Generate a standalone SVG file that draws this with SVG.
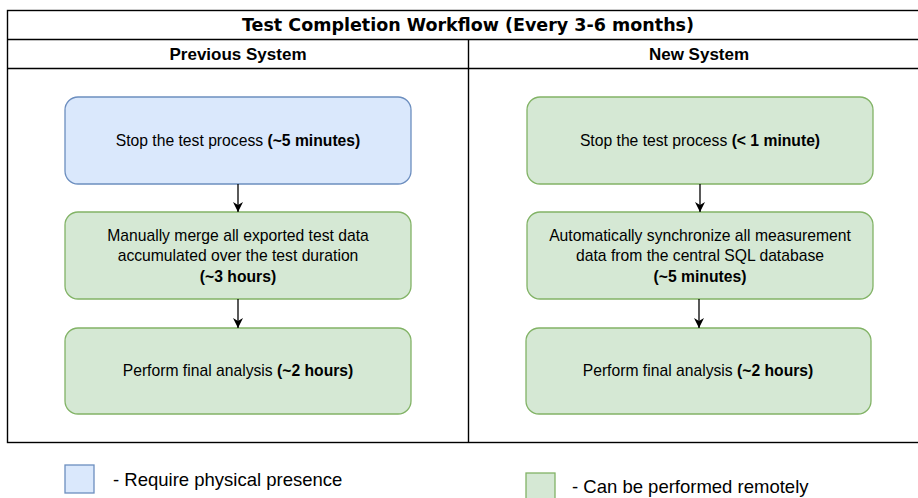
<svg xmlns="http://www.w3.org/2000/svg" width="918" height="498" viewBox="0 0 918 498">
  <style>
    .frame { fill: none; stroke: #000; stroke-width: 1.4; }
    .title { font-family: "DejaVu Sans", Verdana, sans-serif; font-weight: bold; font-size: 17.5px; fill: #000; text-anchor: middle; }
    .head { font-family: "Liberation Sans", Arial, sans-serif; font-weight: bold; font-size: 17px; fill: #000; text-anchor: middle; }
    .blue { fill: #dae8fc; stroke: #6c8ebf; stroke-width: 1.3; }
    .green { fill: #d5e8d4; stroke: #82b366; stroke-width: 1.3; }
    .lbl { font-family: "Liberation Sans", Arial, sans-serif; font-size: 15.7px; fill: #000; text-anchor: middle; }
    .lbl tspan.b { font-weight: bold; }
    .legend { font-family: "Liberation Sans", Arial, sans-serif; font-size: 18.5px; fill: #000; }
    .edge { stroke: #000; stroke-width: 1.3; fill: none; }
  </style>
  <defs>
    <marker id="arrow" viewBox="0 0 10 10" refX="10" refY="5" markerWidth="10" markerHeight="10" markerUnits="userSpaceOnUse" orient="auto">
      <path d="M0,0 L10,5 L0,10 L3,5 Z" fill="#000"/>
    </marker>
  </defs>

  <!-- table frame -->
  <g id="frame">
    <rect class="frame" x="7.5" y="10.5" width="922" height="432"/>
    <line class="frame" x1="7.5" y1="39.5" x2="930" y2="39.5"/>
    <line class="frame" x1="7.5" y1="68.5" x2="930" y2="68.5"/>
    <line class="frame" x1="468.5" y1="39.5" x2="468.5" y2="442.5"/>
    <text class="title" x="468" y="31">Test Completion Workflow (Every 3-6 months)</text>
    <text class="head" x="238" y="60">Previous System</text>
    <text class="head" x="699" y="60">New System</text>
  </g>

  <!-- previous system -->
  <g id="prev-stop">
    <rect class="blue" x="65" y="97" width="346" height="87" rx="13"/>
    <text class="lbl" x="238" y="146">Stop the test process <tspan class="b">(~5 minutes)</tspan></text>
  </g>
  <g id="prev-merge">
    <rect class="green" x="65" y="212" width="346" height="87" rx="13"/>
    <text class="lbl" x="238" y="241">Manually merge all exported test data</text>
    <text class="lbl" x="238" y="261">accumulated over the test duration</text>
    <text class="lbl" x="238" y="282" font-weight="bold">(~3 hours)</text>
  </g>
  <g id="prev-analysis">
    <rect class="green" x="65" y="328" width="346" height="86" rx="13"/>
    <text class="lbl" x="238" y="376">Perform final analysis <tspan class="b">(~2 hours)</tspan></text>
  </g>

  <!-- new system -->
  <g id="new-stop">
    <rect class="green" x="527" y="97" width="346" height="87" rx="13"/>
    <text class="lbl" x="700" y="146">Stop the test process <tspan class="b">(&lt; 1 minute)</tspan></text>
  </g>
  <g id="new-sync">
    <rect class="green" x="527" y="212" width="346" height="87" rx="13"/>
    <text class="lbl" x="700" y="241">Automatically synchronize all measurement</text>
    <text class="lbl" x="700" y="261">data from the central SQL database</text>
    <text class="lbl" x="700" y="282" font-weight="bold">(~5 minutes)</text>
  </g>
  <g id="new-analysis">
    <rect class="green" x="526" y="328" width="345" height="86" rx="13"/>
    <text class="lbl" x="698" y="376">Perform final analysis <tspan class="b">(~2 hours)</tspan></text>
  </g>

  <!-- connectors -->
  <g id="edges">
    <line class="edge" x1="238" y1="184" x2="238" y2="212" marker-end="url(#arrow)"/>
    <line class="edge" x1="238" y1="299" x2="238" y2="328" marker-end="url(#arrow)"/>
    <line class="edge" x1="700" y1="184" x2="700" y2="212" marker-end="url(#arrow)"/>
    <line class="edge" x1="699" y1="299" x2="699" y2="328" marker-end="url(#arrow)"/>
  </g>

  <!-- legend -->
  <g id="legend-physical">
    <rect class="blue" x="65" y="465" width="29" height="28"/>
    <text class="legend" x="113" y="486">- Require physical presence</text>
  </g>
  <g id="legend-remote">
    <rect class="green" x="526" y="473" width="29" height="30"/>
    <text class="legend" x="572" y="493">- Can be performed remotely</text>
  </g>
</svg>
